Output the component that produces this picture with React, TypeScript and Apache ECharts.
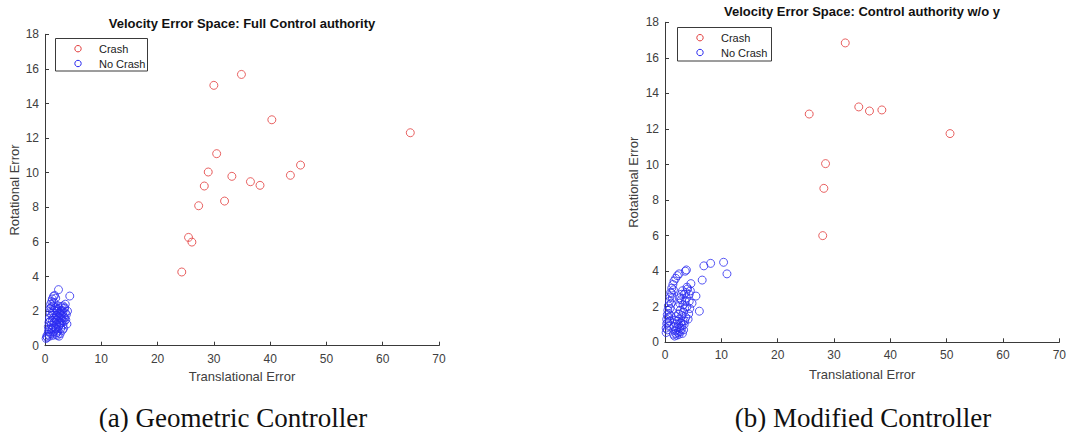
import React, { useEffect, useRef } from "react";
import * as echarts from "echarts";

const xTicks = [0, 10, 20, 30, 40, 50, 60, 70];
const yTicks = [0, 2, 4, 6, 8, 10, 12, 14, 16, 18];

const titleA = "Velocity Error Space: Full Control authority";
const titleB = "Velocity Error Space: Control authority w/o y";
const captionA = "(a) Geometric Controller";
const captionB = "(b) Modified Controller";
const xName = "Translational Error";
const yName = "Rotational Error";
const legendNames = ["Crash", "No Crash"];

const crashA: number[][] = [
  [24.3, 4.26], [25.5, 6.26], [26.1, 5.99], [27.3, 8.09], [28.3, 9.23], [29.0, 10.04],
  [30.0, 15.05], [30.5, 11.1], [31.9, 8.36], [33.2, 9.79], [34.9, 15.68], [36.5, 9.48],
  [38.2, 9.27], [40.3, 13.06], [43.6, 9.85], [45.4, 10.44], [64.9, 12.31],
];

const noCrashA: number[][] = [
  [0.2, 0.42], [0.3, 0.55], [0.4, 0.48], [0.5, 0.65], [0.6, 0.8], [0.7, 0.95], [0.6, 1.1], [0.7, 1.35],
  [0.8, 1.6], [0.9, 1.9], [0.9, 2.15], [1.0, 2.4], [1.1, 2.2], [1.2, 2.55], [1.3, 2.7], [1.5, 2.85],
  [1.7, 2.9], [1.9, 2.75], [1.6, 2.5], [1.4, 2.3], [1.0, 0.7], [1.2, 0.9], [1.1, 1.2], [1.3, 1.45],
  [1.2, 1.75], [1.4, 1.9], [1.5, 1.1], [1.6, 0.8], [1.7, 1.35], [1.8, 1.6], [1.6, 2.05], [1.9, 2.2],
  [1.9, 0.65], [2.0, 0.95], [2.1, 1.25], [2.0, 1.5], [2.2, 1.75], [2.1, 2.0], [2.3, 2.3], [2.4, 3.24],
  [2.2, 0.6], [2.3, 0.85], [2.4, 1.1], [2.5, 1.4], [2.4, 1.65], [2.6, 1.9], [2.5, 2.15], [2.7, 0.7],
  [2.8, 1.0], [2.7, 1.3], [2.9, 1.55], [2.8, 1.8], [3.0, 2.05], [2.9, 2.25], [3.1, 0.9], [3.2, 1.2],
  [3.1, 1.45], [3.3, 1.7], [3.2, 1.95], [3.4, 2.15], [3.3, 1.0], [3.5, 1.6], [3.6, 1.9], [3.5, 2.2],
  [3.6, 2.4], [3.9, 1.25], [4.0, 2.0], [3.8, 1.8], [4.4, 2.87], [3.7, 1.5], [1.8, 1.0], [2.0, 1.75],
  [2.3, 1.5], [2.6, 1.2], [2.9, 1.3], [3.0, 1.75], [1.5, 1.6], [1.3, 1.0], [2.2, 2.1], [2.7, 1.6],
  [3.4, 1.4], [2.1, 0.75], [1.4, 0.6], [0.8, 0.55], [1.0, 1.0], [0.9, 1.4], [2.5, 0.55], [2.8, 2.0],
  [3.2, 2.3], [1.7, 2.2],
];

const crashB: number[][] = [
  [25.6, 12.84], [28.0, 6.0], [28.2, 8.66], [28.5, 10.05], [32.0, 16.84],
  [34.4, 13.24], [36.3, 13.01], [38.5, 13.07], [50.6, 11.74],
];

const noCrashB: number[][] = [
  [0.2, 0.55], [0.2, 0.8], [0.3, 1.05], [0.3, 1.3], [0.4, 1.55], [0.5, 1.8], [0.6, 2.05], [0.8, 2.3],
  [0.9, 2.55], [1.0, 2.8], [1.2, 3.05], [1.4, 3.25], [1.6, 3.45], [1.9, 3.6], [2.2, 3.75], [2.5, 3.85],
  [3.6, 4.0], [3.8, 4.07], [0.4, 0.7], [0.5, 1.1], [0.6, 1.4], [0.7, 1.6], [0.9, 1.9], [1.1, 2.2],
  [1.3, 2.5], [1.2, 2.75], [1.5, 2.95], [1.0, 1.5], [0.8, 1.2], [0.6, 0.9],
  [1.5, 0.45], [1.7, 0.35], [1.9, 0.5], [2.1, 0.4], [2.3, 0.55], [2.0, 0.7], [2.2, 0.85], [1.8, 0.65],
  [2.5, 0.45], [2.7, 0.6], [2.6, 0.8], [2.4, 1.0], [2.9, 0.75], [3.1, 0.5], [3.0, 0.95], [3.3, 0.7],
  [3.4, 1.0], [3.2, 1.2], [2.8, 1.1], [1.6, 0.9], [1.9, 1.05], [2.2, 1.2], [2.5, 1.3], [2.0, 1.45],
  [1.7, 1.25], [2.4, 1.6], [2.7, 1.8], [2.3, 2.0], [2.6, 2.2], [2.9, 2.4], [3.0, 1.5], [3.3, 1.7],
  [3.5, 1.9], [3.2, 2.1], [3.6, 2.3], [3.8, 2.5], [3.4, 2.7], [3.1, 2.9], [3.7, 2.8], [4.0, 3.0],
  [3.9, 2.0], [4.2, 1.6], [4.3, 2.3], [4.5, 2.9], [4.6, 3.3], [4.1, 1.3], [3.7, 1.4], [4.4, 1.9],
  [4.8, 2.2], [3.5, 1.2], [2.9, 2.7], [2.6, 2.5], [4.3, 2.7], [3.9, 3.1],
  [5.5, 2.6], [6.1, 1.75], [6.6, 3.5], [6.9, 4.3], [8.1, 4.44], [10.4, 4.5], [11.0, 3.85],
];

const RED = "#e23b3b";
const BLUE = "#2b2bf0";
const AXIS = "#3a3a3a";
const FONT = "Liberation Sans, Arial, sans-serif";

function makeXAxis(gridIndex: number, nameGap: number) {
  return {
    type: "value",
    gridIndex,
    min: xTicks[0],
    max: xTicks[xTicks.length - 1],
    interval: xTicks[1] - xTicks[0],
    name: xName,
    nameLocation: "middle",
    nameGap,
    nameTextStyle: { color: "#404040", fontSize: 13, fontFamily: FONT },
    axisLine: { show: true, lineStyle: { color: AXIS, width: 1 } },
    axisTick: { show: true, inside: true, length: 4, lineStyle: { color: AXIS } },
    axisLabel: { color: "#404040", fontSize: 12, fontFamily: FONT, margin: 7 },
    splitLine: { show: false },
  };
}

function makeYAxis(gridIndex: number, nameGap: number) {
  return {
    type: "value",
    gridIndex,
    min: yTicks[0],
    max: yTicks[yTicks.length - 1],
    interval: yTicks[1] - yTicks[0],
    name: yName,
    nameLocation: "middle",
    nameGap,
    nameTextStyle: { color: "#404040", fontSize: 13, fontFamily: FONT },
    axisLine: { show: true, lineStyle: { color: AXIS, width: 1 } },
    axisTick: { show: true, inside: true, length: 4, lineStyle: { color: AXIS } },
    axisLabel: { color: "#404040", fontSize: 12, fontFamily: FONT, margin: 6 },
    splitLine: { show: false },
  };
}

function makeSeries(name: string, data: number[][], color: string, idx: number) {
  return {
    type: "scatter",
    name,
    xAxisIndex: idx,
    yAxisIndex: idx,
    data,
    symbol: "circle",
    symbolSize: 8,
    itemStyle: { color: "transparent", borderColor: color, borderWidth: 1 },
    emphasis: { disabled: true },
  };
}

function makeLegendGraphic(left: number, top: number, width: number, height: number) {
  const colors = [RED, BLUE];
  const rows = [10.2, 25];
  const children: any[] = [
    {
      type: "rect",
      shape: { x: left, y: top, width, height },
      style: { fill: "#fff", stroke: "#3a3a3a", lineWidth: 1 },
      z: 100,
    },
  ];
  legendNames.forEach((n, i) => {
    children.push({
      type: "circle",
      shape: { cx: left + 22.5, cy: top + rows[i], r: 3.2 },
      style: { fill: "none", stroke: colors[i], lineWidth: 1 },
      z: 101,
    });
    children.push({
      type: "text",
      x: left + 43.5,
      y: top + rows[i],
      style: {
        text: n,
        fill: "#222",
        fontSize: 11,
        fontFamily: FONT,
        verticalAlign: "middle",
        align: "left",
      },
      z: 101,
    });
  });
  return { type: "group", children };
}

export default function App() {
  const ref = useRef<HTMLDivElement>(null);
  useEffect(() => {
    if (!ref.current) return;
    const chart = echarts.init(ref.current, null, { renderer: "svg" });
    chart.setOption({
      animation: false,
      backgroundColor: "#fff",
      title: [
        { text: titleA, left: 242, top: 17, padding: 0, textAlign: "center",
          textStyle: { fontSize: 13, fontWeight: "bold", color: "#111", fontFamily: FONT } },
        { text: titleB, left: 862, top: 5, padding: 0, textAlign: "center",
          textStyle: { fontSize: 13, fontWeight: "bold", color: "#111", fontFamily: FONT } },
        { text: captionA, left: 233, top: 404, padding: 0, textAlign: "center",
          textStyle: { fontSize: 27, fontWeight: "normal", color: "#111", fontFamily: "Liberation Serif, serif" } },
        { text: captionB, left: 863, top: 404, padding: 0, textAlign: "center",
          textStyle: { fontSize: 27, fontWeight: "normal", color: "#111", fontFamily: "Liberation Serif, serif" } },
      ],
      grid: [
        { left: 45, top: 34.3, width: 394, height: 311.4 },
        { left: 665, top: 22.3, width: 394.3, height: 320 },
      ],
      xAxis: [makeXAxis(0, 23), makeXAxis(1, 26)],
      yAxis: [makeYAxis(0, 24), makeYAxis(1, 25)],
      series: [
        makeSeries(legendNames[0], crashA, RED, 0),
        makeSeries(legendNames[1], noCrashA, BLUE, 0),
        makeSeries(legendNames[0], crashB, RED, 1),
        makeSeries(legendNames[1], noCrashB, BLUE, 1),
      ],
      graphic: [
        makeLegendGraphic(55.5, 38.5, 92, 32.5),
        makeLegendGraphic(677.5, 27.5, 94, 33.5),
      ],
    });
    return () => chart.dispose();
  }, []);
  return (
    <div
      ref={ref}
      style={{ position: "fixed", left: 0, top: 0, width: 1072, height: 432, background: "#fff" }}
    />
  );
}
